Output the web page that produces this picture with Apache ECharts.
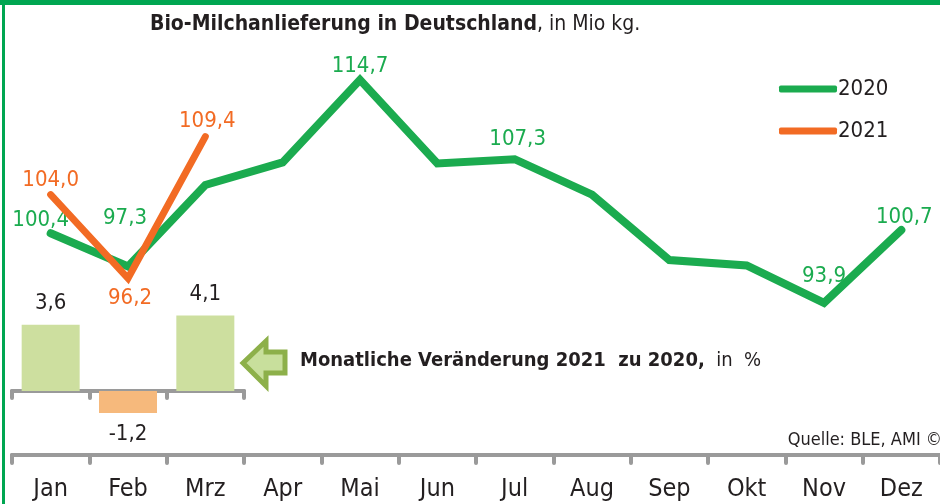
<!DOCTYPE html>
<html>
<head>
<meta charset="utf-8">
<script src="https://cdn.jsdelivr.net/npm/echarts@6/dist/echarts.min.js"></script>
<style>
  html, body { margin: 0; padding: 0; background: #fff; }
  #main { width: 940px; height: 504px; }
</style>
</head>
<body>
<div id="main"></div>
<script>
// months on the x axis
var months = ['Jan', 'Feb', 'Mrz', 'Apr', 'Mai', 'Jun', 'Jul', 'Aug', 'Sep', 'Okt', 'Nov', 'Dez'];
// Bio-Milchanlieferung, Mio kg
var values2020 = [100.4, 97.3, 104.9, 107.0, 114.7, 106.9, 107.3, 104.0, 97.9, 97.4, 93.9, 100.7];
var values2021 = [104.0, 96.2, 109.4];
// change 2021 vs 2020, %
var changeMonths = ['Jan', 'Feb', 'Mrz'];
var changePct = [3.6, -1.2, 4.1];

var FONT = '"Liberation Sans Narrow", "DejaVu Sans Condensed", sans-serif';
var GREEN = '#1bab4f';
var ORANGE = '#f26b24';
var DARK = '#231f20';

function fmt(v) { return v.toFixed(1).replace('.', ','); }

// which points get a value label, and where (offset from default 'top')
var labels2020 = { 0: [-10, 4], 1: [-3, -32], 4: [0, 3], 6: [3, -3], 10: [0, -10], 11: [3, 4] };
var labels2021 = { 0: [0, 2], 1: [2, 4], 2: [2, 1] };

function lineData(vals, lbl, color, below) {
  return vals.map(function (v, i) {
    var item = { value: v };
    if (lbl[i]) {
      item.label = {
        show: true,
        position: (below === i) ? 'bottom' : 'top',
        offset: lbl[i],
        formatter: function (p) { return fmt(p.value); },
        color: color,
        fontSize: 22,
        fontFamily: FONT
      };
    }
    return item;
  });
}

var d2020 = lineData(values2020, labels2020, GREEN, -1);
var d2021 = lineData(values2021, labels2021, ORANGE, 1);

var barData = changePct.map(function (v) {
  return {
    value: v,
    itemStyle: { color: v >= 0 ? '#cddf9f' : '#f6b97c' },
    label: { position: v >= 0 ? 'top' : 'bottom', distance: 10 }
  };
});

var chart = echarts.init(document.getElementById('main'));
chart.setOption({
  animation: false,
  textStyle: { fontFamily: FONT },
  legend: {
    left: 774,
    top: 73,
    orient: 'vertical',
    icon: 'roundRect',
    itemWidth: 58,
    itemHeight: 7,
    itemGap: 20,
    textStyle: { fontSize: 22, color: DARK, fontFamily: FONT, padding: [0, 0, 0, -4] },
    data: ['2020', '2021']
  },
  grid: [
    { left: 12, right: 0, top: 23, bottom: 52 },
    { left: 12, right: 696, top: 299, bottom: 58 }
  ],
  xAxis: [
    {
      gridIndex: 0,
      type: 'category',
      data: months,
      boundaryGap: true,
      offset: 3,
      axisLine: { lineStyle: { color: '#9a9a9a', width: 4, cap: 'round' } },
      axisTick: { show: true, length: 8, lineStyle: { color: '#9a9a9a', width: 4, cap: 'round' } },
      axisLabel: { margin: 22, fontSize: 25, color: DARK, fontFamily: FONT },
      splitLine: { show: false }
    },
    {
      gridIndex: 1,
      type: 'category',
      data: changeMonths,
      boundaryGap: true,
      axisLine: { onZero: true, lineStyle: { color: '#9a9a9a', width: 4, cap: 'round' } },
      axisTick: { show: true, length: 7, lineStyle: { color: '#9a9a9a', width: 4, cap: 'round' } },
      axisLabel: { show: false },
      splitLine: { show: false }
    }
  ],
  yAxis: [
    { gridIndex: 0, type: 'value', min: 80, max: 120, show: false, splitLine: { show: false } },
    { gridIndex: 1, type: 'value', min: -3, max: 5, show: false, splitLine: { show: false } }
  ],
  series: [
    {
      name: '2020',
      type: 'line',
      xAxisIndex: 0, yAxisIndex: 0,
      data: d2020,
      symbol: 'circle',
      symbolSize: 1,
      showSymbol: true,
      color: GREEN,
      lineStyle: { color: GREEN, width: 8, cap: 'round', join: 'miter' },
      z: 3
    },
    {
      name: '2021',
      type: 'line',
      xAxisIndex: 0, yAxisIndex: 0,
      data: d2021,
      symbol: 'circle',
      symbolSize: 1,
      showSymbol: true,
      color: ORANGE,
      lineStyle: { color: ORANGE, width: 7, cap: 'round', join: 'miter' },
      z: 4
    },
    {
      name: 'change',
      type: 'bar',
      xAxisIndex: 1, yAxisIndex: 1,
      data: barData,
      barWidth: 58,
      label: {
        show: true,
        color: DARK,
        fontSize: 22,
        fontFamily: FONT,
        formatter: function (p) { return fmt(p.value); }
      },
      z: 2
    }
  ],
  graphic: [
    { type: 'rect', shape: { x: 0, y: 0, width: 940, height: 5 }, style: { fill: '#00a651' } },
    { type: 'rect', shape: { x: 2, y: 0, width: 3, height: 504 }, style: { fill: '#00a651' } },
    {
      type: 'text', left: 150, top: 14,
      style: {
        text: '{b|Bio-Milchanlieferung in Deutschland}{r|, in Mio kg.}',
        rich: {
          b: { fontSize: 21, fontWeight: 'bold', fill: DARK, fontFamily: FONT },
          r: { fontSize: 21, fill: DARK, fontFamily: FONT }
        }
      }
    },
    {
      type: 'polygon',
      shape: { points: [[243, 363], [266, 341], [266, 352], [285, 352], [285, 373], [266, 373], [266, 386]] },
      style: { fill: '#c8df9c', stroke: '#8db04a', lineWidth: 5, lineJoin: 'miter' }
    },
    {
      type: 'text', left: 300, top: 351,
      style: {
        text: '{b|Monatliche Veränderung 2021  zu 2020,}{r|  in  %}',
        rich: {
          b: { fontSize: 20, fontWeight: 'bold', fill: DARK, fontFamily: FONT },
          r: { fontSize: 20, fill: DARK, fontFamily: FONT }
        }
      }
    },
    {
      type: 'text', right: -2, top: 431,
      style: { text: 'Quelle: BLE, AMI ©', fontSize: 18, fill: DARK, fontFamily: FONT }
    }
  ]
});
</script>
</body>
</html>
